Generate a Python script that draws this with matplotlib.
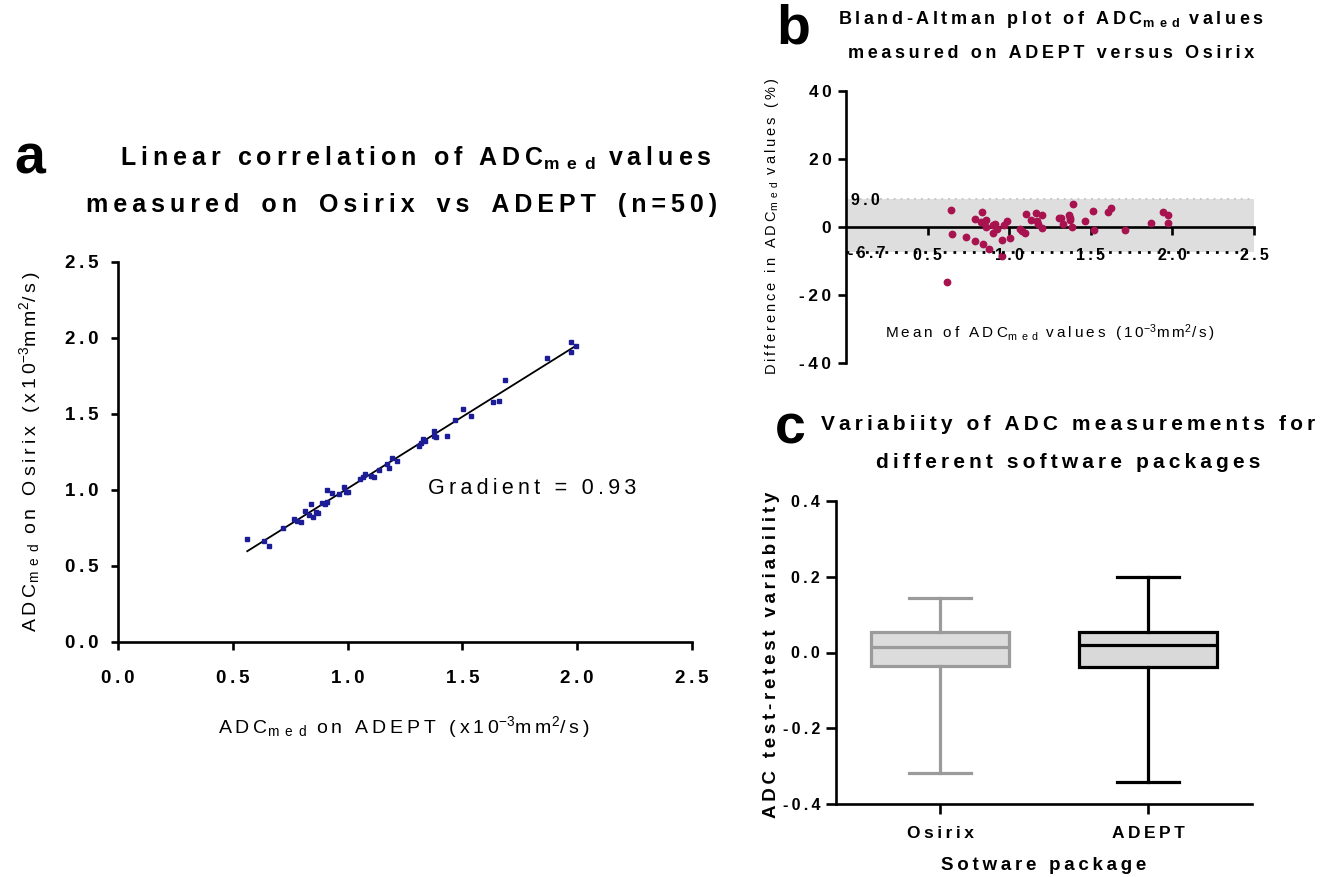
import matplotlib

matplotlib.use("Agg")
import matplotlib.pyplot as plt
import numpy as np
from matplotlib.ticker import FuncFormatter

plt.rcParams["font.family"] = ["Liberation Sans", "DejaVu Sans"]
plt.rcParams["mathtext.fontset"] = "custom"
plt.rcParams["mathtext.rm"] = "Liberation Sans"
plt.rcParams["mathtext.bf"] = "Liberation Sans:bold"
plt.rcParams["mathtext.it"] = "Liberation Sans:italic"
plt.rcParams["mathtext.default"] = "regular"

# --- panel a: ADC_med Osirix vs ADEPT ---
adept_adc = [0.563, 0.637, 0.656, 0.717, 0.767, 0.796, 0.813, 0.830, 0.841, 0.848,
             0.862, 0.889, 0.900, 0.910, 0.909, 0.932, 0.964, 0.983, 0.992, 1.054,
             1.066, 1.077, 1.115, 1.135, 1.172, 1.182, 1.195, 1.217, 1.309, 1.320,
             1.328, 1.375, 1.376, 1.384, 1.432, 1.468, 1.501, 1.537, 1.632, 1.661,
             1.687, 1.868, 1.973, 1.993, 1.973, 0.872, 1.000, 1.335, 1.100, 0.780]
osirix_adc = [0.676, 0.664, 0.632, 0.748, 0.807, 0.787, 0.864, 0.833, 0.908, 0.820,
              0.857, 0.912, 0.908, 0.923, 1.000, 0.978, 0.974, 1.022, 0.985, 1.072,
              1.088, 1.105, 1.086, 1.129, 1.171, 1.147, 1.208, 1.191, 1.292, 1.307,
              1.336, 1.390, 1.357, 1.347, 1.355, 1.461, 1.533, 1.485, 1.577, 1.588,
              1.724, 1.866, 1.972, 1.947, 1.908, 0.850, 0.990, 1.320, 1.090, 0.795]
gradient_label = "Gradient = 0.93"

# --- panel b: Bland-Altman ---
ba_mean = [0.643, 0.651, 0.616, 0.733, 0.791, 0.789, 0.828, 0.836, 0.838, 0.860,
           0.858, 0.877, 0.903, 0.912, 0.903, 0.924, 0.957, 0.955, 0.971, 0.988,
           1.004, 1.064, 1.080, 1.094, 1.103, 1.133, 1.164, 1.170, 1.177, 1.203,
           1.203, 1.306, 1.320, 1.331, 1.368, 1.370, 1.370, 1.384, 1.392, 1.462,
           1.511, 1.517, 1.606, 1.624, 1.708, 1.869, 1.945, 1.973, 1.975]
ba_diff = [5.07, -2.15, -16.3, -2.83, 2.44, -4.0, 1.37, 4.39, -4.88, 1.95,
           0.0, -6.44, 0.59, 0.98, -1.76, -0.49, -3.8, -8.4, 0.49, 1.66,
           -3.12, -0.68, -1.17, -1.76, 3.71, 1.95, 4.2, 1.66, 0.98, 3.51,
           -0.2, 2.63, 2.63, 0.98, 3.51, 2.54, 1.95, 0.0, 6.63, 1.66,
           4.68, -0.98, 4.39, 5.56, -0.98, 1.17, 4.49, 3.51, 1.17]
loa_upper = 8.3
loa_lower = -7.3
loa_upper_label = "9.0"
loa_lower_label = "-6.7"

# --- panel c: box plot of test-retest variability ---
packages = ["Osirix", "ADEPT"]
box_whislo = [-0.318, -0.341]
box_q1 = [-0.035, -0.037]
box_med = [0.015, 0.019]
box_q3 = [0.053, 0.055]
box_whishi = [0.144, 0.200]

W, H = 1336, 877
THIN = "\u2009"
SUB_MED = r"$_{m\;\;e\;\;d}$"


def spaced(s: str, wide_words: bool = False) -> str:
    """Letter-space the plain parts of a string, leave $math$ parts alone."""
    parts = s.split("$")
    out = []
    for i, p in enumerate(parts):
        if i % 2 == 0:
            if wide_words:
                p = p.replace(" ", "\0")
            p = THIN.join(p)
            p = p.replace("\0", " " + THIN)
        out.append(p)
    return "$".join(out)


def fpos(x: float, y: float) -> tuple[float, float]:
    """Pixel position -> figure fraction."""
    return x / W, 1 - y / H


def axes_rect(x0, y0, x1, y1):
    return [x0 / W, 1 - y1 / H, (x1 - x0) / W, (y1 - y0) / H]


def tick_fmt(digits: int):
    return FuncFormatter(lambda v, _: spaced(f"{v:.{digits}f}"))


def style_axes(ax, lw=1.9):
    for side in ("top", "right"):
        ax.spines[side].set_visible(False)
    for side in ("left", "bottom"):
        ax.spines[side].set_linewidth(lw)
    ax.tick_params(width=lw, direction="out")


fig = plt.figure(figsize=(W / 100, H / 100), dpi=100)

# ---------------- panel a ----------------
ax_a = fig.add_axes(axes_rect(118, 262, 692, 642))
style_axes(ax_a)
x_a = np.asarray(adept_adc)
y_a = np.asarray(osirix_adc)
ax_a.plot(x_a, y_a, "s", color="#1c1c96", markersize=3.4, zorder=3)
slope, intercept = np.polyfit(x_a, y_a, 1)
xfit = np.array([x_a.min(), x_a.max()])
ax_a.plot(xfit, slope * xfit + intercept, color="black", linewidth=1.3, zorder=2)
ax_a.set_xlim(0, 2.5)
ax_a.set_ylim(0, 2.5)
ticks_a = np.arange(0, 2.51, 0.5)
ax_a.set_xticks(ticks_a)
ax_a.set_yticks(ticks_a)
ax_a.xaxis.set_major_formatter(tick_fmt(1))
ax_a.yaxis.set_major_formatter(tick_fmt(1))
ax_a.tick_params(axis="x", length=6, pad=14, labelsize=13.5)
ax_a.tick_params(axis="y", length=5, pad=9, labelsize=13.5)
for lab in ax_a.get_xticklabels() + ax_a.get_yticklabels():
    lab.set_fontweight("bold")
ax_a.text(1.35, 1.01, spaced(gradient_label), fontsize=15.5, va="center", ha="left")

fig.text(*fpos(404, 727), spaced("ADC" + SUB_MED + r" on ADEPT (x10$^{-3}$mm$^{2}$/s)"),
         fontsize=14, ha="center", va="center")
fig.text(*fpos(30, 452), spaced("ADC" + SUB_MED + r" on Osirix (x10$^{-3}$mm$^{2}$/s)"),
         fontsize=14, ha="center", va="center", rotation=90)
fig.text(*fpos(416, 158), spaced("Linear correlation of ADC" + SUB_MED + " values"),
         fontsize=18, fontweight="bold", ha="center", va="center")
fig.text(*fpos(402, 205), spaced("measured on Osirix vs ADEPT (n=50)", wide_words=True),
         fontsize=18, fontweight="bold", ha="center", va="center")
fig.text(*fpos(30, 160), "a", fontsize=40, fontweight="bold", ha="center", va="center")

# ---------------- panel b ----------------
ax_b = fig.add_axes(axes_rect(846, 91, 1254, 363))
style_axes(ax_b)
ax_b.spines["bottom"].set_position(("data", 0))
ax_b.set_xlim(0, 2.5)
ax_b.set_ylim(-40, 40)
ax_b.axhspan(loa_lower, loa_upper, color="#dedede", zorder=0, linewidth=0)
ax_b.axhline(loa_upper, color="#c8c8c8", linestyle=(0, (1, 2.5)), linewidth=1.4, zorder=1)
ax_b.axhline(loa_lower, color="black", linestyle=(0, (1, 2.5)), linewidth=2.0, zorder=6)
ax_b.plot(ba_mean, ba_diff, "o", color="#a8124f", markersize=4.6, zorder=4)
ax_b.set_xticks([0.5, 1.0, 1.5, 2.0, 2.5])
ax_b.set_yticks([-40, -20, 0, 20, 40])
ax_b.xaxis.set_major_formatter(tick_fmt(1))
ax_b.yaxis.set_major_formatter(FuncFormatter(lambda v, _: spaced(f"{v:.0f}")))
ax_b.tick_params(axis="x", length=6, pad=9, labelsize=11.5)
ax_b.tick_params(axis="y", length=6, pad=4.5, labelsize=12.5)
for lab in ax_b.get_xticklabels() + ax_b.get_yticklabels():
    lab.set_fontweight("bold")
ax_b.text(0.03, loa_upper - 0.6, spaced(loa_upper_label), fontsize=11.5,
          fontweight="bold", ha="left", va="center", zorder=5)
ax_b.text(0.01, loa_lower - 0.4, spaced(loa_lower_label), fontsize=11.5,
          fontweight="bold", ha="left", va="center", zorder=5)
ax_b.text(0.5, 0.108, spaced("Mean of ADC" + SUB_MED + r" values (10$^{-3}$mm$^{2}$/s)"),
          transform=ax_b.transAxes, fontsize=11, ha="center", va="center")
fig.text(*fpos(772, 226), spaced("Difference in ADC" + SUB_MED + " values (%)"),
         fontsize=10.5, ha="center", va="center", rotation=90)
fig.text(*fpos(1051, 20), spaced("Bland-Altman plot of ADC" + SUB_MED + " values"),
         fontsize=13, fontweight="bold", ha="center", va="center")
fig.text(*fpos(1051, 53), spaced("measured on ADEPT versus Osirix"),
         fontsize=13, fontweight="bold", ha="center", va="center")
fig.text(*fpos(793, 30), "b", fontsize=40, fontweight="bold", ha="center", va="center")

# ---------------- panel c ----------------
ax_c = fig.add_axes(axes_rect(836, 501, 1252, 804))
style_axes(ax_c)
box_colors = [("#9b9b9b", "#dcdcdc"), ("black", "#d9d9d9")]
for i, (edge, face) in enumerate(box_colors):
    stats = [dict(med=box_med[i], q1=box_q1[i], q3=box_q3[i],
                  whislo=box_whislo[i], whishi=box_whishi[i], fliers=[])]
    ax_c.bxp(stats, positions=[i], widths=0.665, capwidths=0.3, patch_artist=True,
             showfliers=False,
             boxprops=dict(facecolor=face, edgecolor=edge, linewidth=2.3),
             medianprops=dict(color=edge, linewidth=2.3),
             whiskerprops=dict(color=edge, linewidth=2.3),
             capprops=dict(color=edge, linewidth=2.3))
ax_c.set_xlim(-0.5, 1.5)
ax_c.set_ylim(-0.4, 0.4)
ax_c.set_yticks([-0.4, -0.2, 0.0, 0.2, 0.4])
ax_c.yaxis.set_major_formatter(tick_fmt(1))
ax_c.set_xticks([0, 1])
ax_c.set_xticklabels([spaced(p) for p in packages])
ax_c.tick_params(axis="x", length=7, pad=9, labelsize=12.5)
ax_c.tick_params(axis="y", length=7, pad=4.5, labelsize=11.5)
for lab in ax_c.get_xticklabels() + ax_c.get_yticklabels():
    lab.set_fontweight("bold")
fig.text(*fpos(1044, 866), spaced("Sotware package"), fontsize=13.5, fontweight="bold",
         ha="center", va="center")
fig.text(*fpos(772, 655), spaced("ADC test-retest variability"), fontsize=13.5,
         fontweight="bold", ha="center", va="center", rotation=90)
fig.text(*fpos(1068, 425), spaced("Variabiity of ADC measurements for"), fontsize=15,
         fontweight="bold", ha="center", va="center")
fig.text(*fpos(1068, 462), spaced("different software packages"), fontsize=15,
         fontweight="bold", ha="center", va="center")
fig.text(*fpos(790, 430), "c", fontsize=40, fontweight="bold", ha="center", va="center")

fig.savefig("out.png", dpi=100)
